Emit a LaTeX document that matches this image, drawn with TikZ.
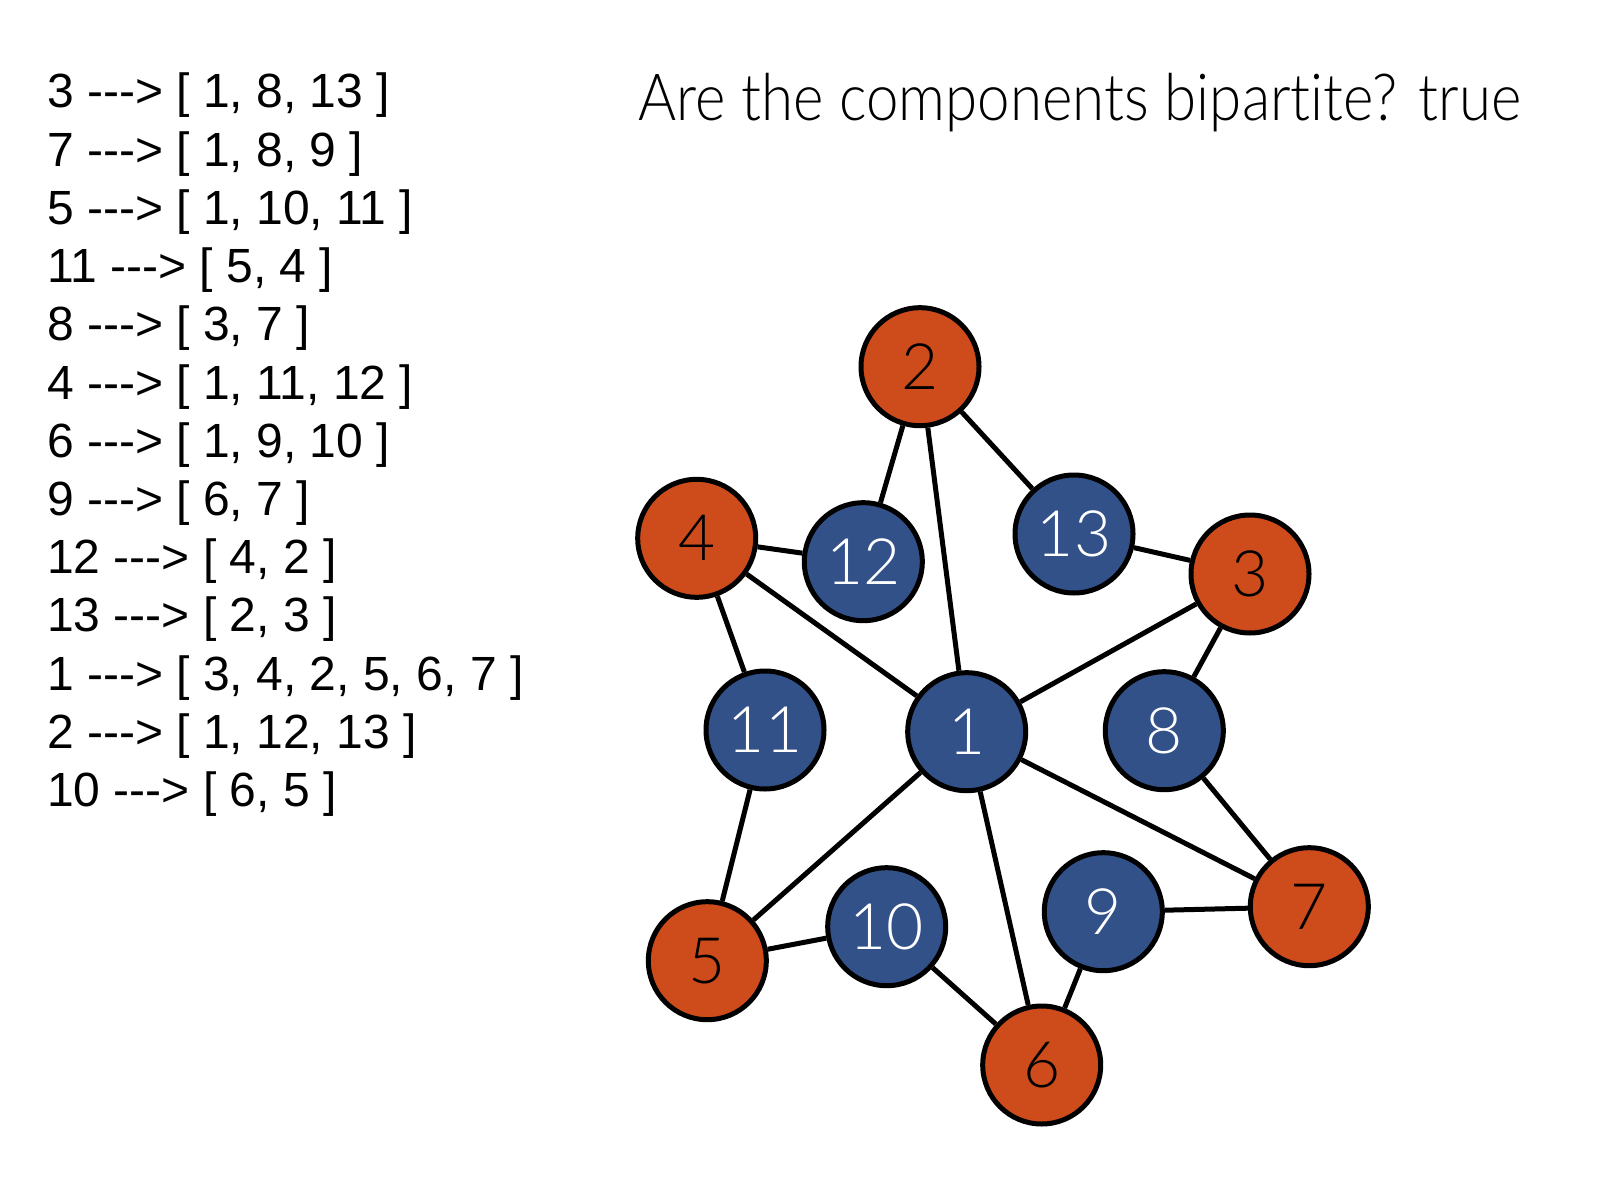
\documentclass[tikz,border=0pt]{standalone}
\usepackage{fontspec}
\setmainfont{Liberation Sans}
\IfFontExistsTF{Lato Light}{\newfontfamily\thinfont{Lato Light}[Ligatures={NoCommon}]}{%
  \IfFontExistsTF{Fira Sans Light}{\newfontfamily\thinfont{Fira Sans Light}}{\newfontfamily\thinfont{Liberation Sans}}}
\usetikzlibrary{backgrounds}
\definecolor{nodeorange}{RGB}{206,75,27}
\definecolor{nodeblue}{RGB}{51,81,137}
\newcommand\arr{-{}-{}->}
\begin{document}
\begin{tikzpicture}[x=1pt,y=-1pt,
 vert/.style={circle, draw=black, line width=5pt, minimum size=118pt, inner sep=0pt, font=\thinfont\fontsize{64}{64}\selectfont},
 redv/.style={vert, fill=nodeorange, text=black},
 bluev/.style={vert, fill=nodeblue, text=white},
 edge/.style={line width=5pt, black},
 listline/.style={anchor=base west, inner sep=0pt, font=\fontsize{48}{48}\selectfont}]
\useasboundingbox (0,0) rectangle (1598,1190);
% adjacency list
\node[listline] (l1) at (47,108) {3 \arr{} [ 1, 8, 13 ]};
\node[listline] (l2) at (47,166.2) {7 \arr{} [ 1, 8, 9 ]};
\node[listline] (l3) at (47,224.4) {5 \arr{} [ 1, 10, 11 ]};
\node[listline] (l4) at (47,282.6) {11 \arr{} [ 5, 4 ]};
\node[listline] (l5) at (47,340.8) {8 \arr{} [ 3, 7 ]};
\node[listline] (l6) at (47,399) {4 \arr{} [ 1, 11, 12 ]};
\node[listline] (l7) at (47,457.2) {6 \arr{} [ 1, 9, 10 ]};
\node[listline] (l8) at (47,515.4) {9 \arr{} [ 6, 7 ]};
\node[listline] (l9) at (47,573.6) {12 \arr{} [ 4, 2 ]};
\node[listline] (l10) at (47,631.8) {13 \arr{} [ 2, 3 ]};
\node[listline] (l11) at (47,690) {1 \arr{} [ 3, 4, 2, 5, 6, 7 ]};
\node[listline] (l12) at (47,748.2) {2 \arr{} [ 1, 12, 13 ]};
\node[listline] (l13) at (47,806.4) {10 \arr{} [ 6, 5 ]};
% title
\node[anchor=base west, inner sep=0pt, font=\thinfont\fontsize{65}{65}\selectfont] (title) at (638,121) {\resizebox{883pt}{\height}{Are the components bipartite? true}};
% vertices
\node[bluev] (n1) at (966.7,731.7) {1};
\node[redv] (n2) at (920,366.7) {2};
\node[redv] (n3) at (1250,574) {3};
\node[redv] (n4) at (696.7,538.3) {4};
\node[redv] (n5) at (707.3,960.7) {5};
\node[redv] (n6) at (1041.7,1065) {6};
\node[redv] (n7) at (1309.3,906.7) {7};
\node[bluev] (n8) at (1164.3,730.7) {8};
\node[bluev] (n9) at (1103.3,911.7) {9};
\node[bluev] (n10) at (886.7,926.7) {10};
\node[bluev] (n11) at (765,730) {11};
\node[bluev] (n12) at (863.3,561.7) {12};
\node[bluev] (n13) at (1074,534) {13};
\begin{pgfonlayer}{background}
\fill[white] (0,0) rectangle (1598,1190);
\draw[edge] (n3) -- (n1);
\draw[edge] (n3) -- (n8);
\draw[edge] (n3) -- (n13);
\draw[edge] (n7) -- (n1);
\draw[edge] (n7) -- (n8);
\draw[edge] (n7) -- (n9);
\draw[edge] (n5) -- (n1);
\draw[edge] (n5) -- (n10);
\draw[edge] (n5) -- (n11);
\draw[edge] (n11) -- (n4);
\draw[edge] (n4) -- (n1);
\draw[edge] (n4) -- (n12);
\draw[edge] (n6) -- (n1);
\draw[edge] (n6) -- (n9);
\draw[edge] (n6) -- (n10);
\draw[edge] (n12) -- (n2);
\draw[edge] (n13) -- (n2);
\draw[edge] (n1) -- (n2);
\end{pgfonlayer}
\end{tikzpicture}
\end{document}
